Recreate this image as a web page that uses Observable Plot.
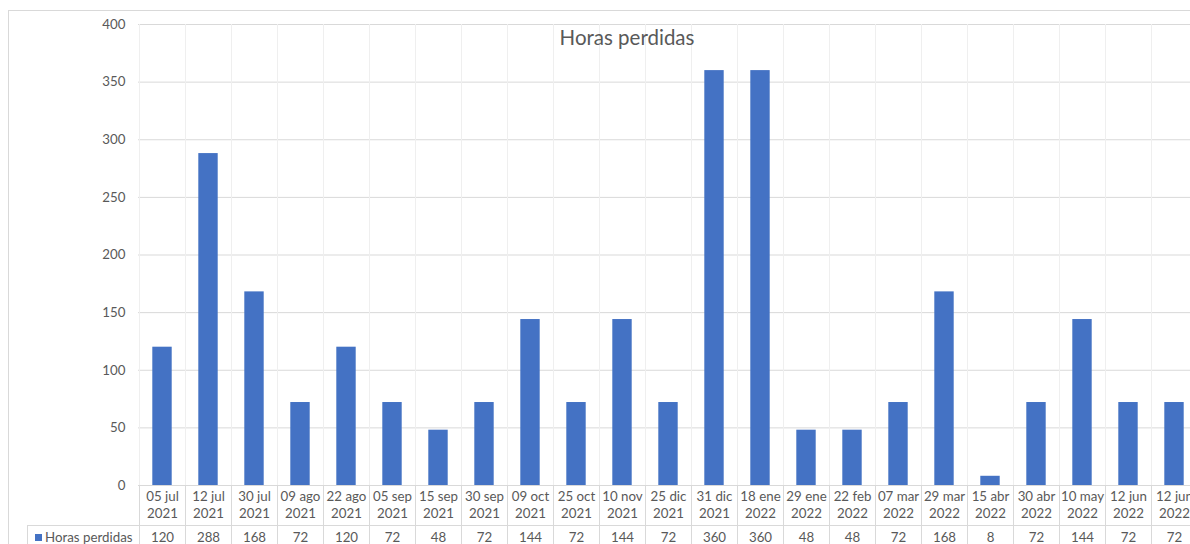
<!DOCTYPE html>
<html>
<head>
<meta charset="utf-8">
<script src="https://cdn.jsdelivr.net/npm/d3@7"></script>
<script src="https://cdn.jsdelivr.net/npm/@observablehq/plot@0.6"></script>
<style>
  html, body { margin: 0; padding: 0; background: #fff; overflow: hidden; }
  #wrap { position: relative; width: 1190px; height: 544px; overflow: hidden; }
  #frame { position: absolute; left: 8px; top: 10px; width: 1300px; height: 600px;
           border-left: 1px solid #d9d9d9; border-top: 1px solid #d9d9d9; box-sizing: border-box; }
  #chart { position: absolute; left: 0; top: 0; width: 1198px; }
  #chart svg { max-width: none !important; }
  #title { position: absolute; top: 25px; left: 527px; width: 200px; text-align: center;
           font-family: Lato, sans-serif; font-size: 20.5px; color: #595959; background: transparent; }
</style>
</head>
<body>
<div id="wrap">
  <div id="frame"></div>
  <div id="chart"></div>
  <div id="title">Horas perdidas</div>
</div>
<script>
const fechas = ["05 jul","12 jul","30 jul","09 ago","22 ago","05 sep","15 sep","30 sep","09 oct","25 oct","10 nov","25 dic","31 dic","18 ene","29 ene","22 feb","07 mar","29 mar","15 abr","30 abr","10 may","12 jun","12 jun"];
const anios = ["2021","2021","2021","2021","2021","2021","2021","2021","2021","2021","2021","2021","2021","2022","2022","2022","2022","2022","2022","2022","2022","2022","2022"];
const horas = [120,288,168,72,120,72,48,72,144,72,144,72,360,360,48,48,72,168,8,72,144,72,72];
const yTicks = [0,50,100,150,200,250,300,350,400];
const serie = "Horas perdidas";

const idx = horas.map((_, i) => i);
const gray = "#595959";
const fs = 13.3;

function tabla(index, scales, values, dims) {
  const g = d3.create("svg:g");
  const x = scales.x;
  const n = idx.length;
  const step = (dims.width - dims.marginLeft - dims.marginRight) / n;
  const top = dims.marginTop;
  const base = dims.height - dims.marginBottom;
  const bottom = dims.height + 20;
  const rowY = base + 40;
  const legendLeft = 27;
  for (let i = 0; i <= n; i++) {
    const xx = Math.round(i < n ? x(i) : x(n - 1) + step) + 0.5;
    g.append("line").attr("x1", xx).attr("x2", xx).attr("y1", top).attr("y2", base)
      .attr("stroke", "#efefef");
    g.append("line").attr("x1", xx).attr("x2", xx).attr("y1", base).attr("y2", bottom)
      .attr("stroke", "#d9d9d9");
  }
  g.append("line").attr("x1", legendLeft).attr("x2", dims.width).attr("y1", rowY + 0.5).attr("y2", rowY + 0.5)
    .attr("stroke", "#d9d9d9");
  g.append("line").attr("x1", legendLeft + 0.5).attr("x2", legendLeft + 0.5).attr("y1", rowY).attr("y2", bottom)
    .attr("stroke", "#d9d9d9");
  g.append("rect").attr("x", 35).attr("y", rowY + 9).attr("width", 7).attr("height", 7).attr("fill", "#4472C4");
  g.append("text").attr("x", 45).attr("y", rowY + 12.5).attr("dy", "0.35em")
    .attr("text-anchor", "start").attr("fill", gray).attr("font-size", fs).text(serie);
  return g.node();
}

const plot = Plot.plot({
  width: 1198,
  height: 544,
  marginLeft: 138,
  marginRight: 0,
  marginTop: 24,
  marginBottom: 59,
  style: { fontFamily: "Lato, sans-serif", fontSize: fs + "px", color: gray, background: "transparent", maxWidth: "none" },
  x: { type: "band", domain: idx, padding: 0, axis: null },
  y: { domain: [0, 400], ticks: yTicks, tickSize: 0, tickPadding: 13, label: null },
  marks: [
    Plot.gridY(yTicks, { stroke: "#d9d9d9", strokeOpacity: 1 }),
    tabla,
    Plot.barY(idx, { x: d => d, y: d => horas[d], fill: "#4472C4", insetLeft: 13.3, insetRight: 13.3 }),
    Plot.text(idx, { x: d => d, text: d => fechas[d] + "\n" + anios[d], frameAnchor: "bottom",
      lineAnchor: "top", dy: 4, lineHeight: 1.25, fill: gray, fontSize: fs }),
    Plot.text(idx, { x: d => d, text: d => String(horas[d]), frameAnchor: "bottom",
      lineAnchor: "middle", dy: 52, fill: gray, fontSize: fs }),
    Plot.axisY(yTicks, { tickSize: 0, tickPadding: 13, fill: gray, fontSize: fs, label: null })
  ]
});
document.getElementById("chart").appendChild(plot);
</script>
</body>
</html>
